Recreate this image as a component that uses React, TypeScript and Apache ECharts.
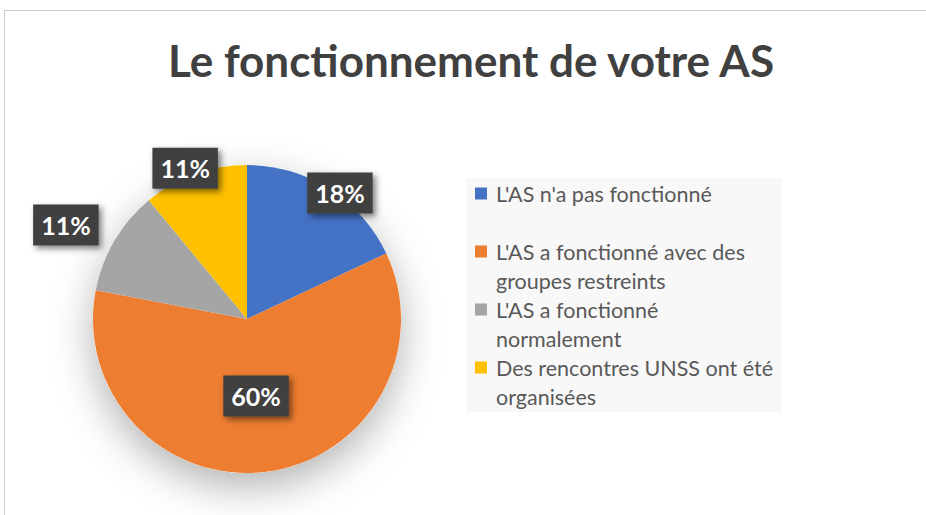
import React, { useEffect, useRef } from "react";
import * as echarts from "echarts";

const title = "Le fonctionnement de votre AS";
const categories = [
  "L'AS n'a pas fonctionné",
  "L'AS a fonctionné avec des groupes restreints",
  "L'AS a fonctionné normalement",
  "Des rencontres UNSS ont été organisées",
];
const legendLines = [
  ["L'AS n'a pas fonctionné", " "],
  ["L'AS a fonctionné avec des", "groupes restreints"],
  ["L'AS a fonctionné", "normalement"],
  ["Des rencontres UNSS ont été", "organisées"],
];
const values = [18, 60, 11, 11];
const colors = ["#4472C4", "#ED7D31", "#A5A5A5", "#FFC000"];
// label placement: [angle from 12 o'clock in degrees, distance from centre in px]
const labelPolar = [
  [36.4, 156.6],
  [173.3, 77.5],
  [297.4, 204],
  [337.7, 163],
];

const CX = 247;
const CY = 319;
const R = 154;
const FONT = "Lato, 'Noto Sans', sans-serif";

export default function App() {
  const ref = useRef<HTMLDivElement>(null);
  useEffect(() => {
    if (!ref.current) return;
    const chart = echarts.init(ref.current, null, { renderer: "svg" });
    const total = values.reduce((a, b) => a + b, 0);
    chart.setOption({
      animation: false,
      backgroundColor: "#ffffff",
      title: {
        text: title,
        left: 471,
        top: 35,
        padding: 0,
        textAlign: "center",
        textStyle: {
          fontFamily: FONT,
          fontWeight: "bold",
          fontSize: 44,
          color: "#404040",
          lineHeight: 50,
        },
      },
      graphic: [
        {
          type: "rect",
          z: -10,
          silent: true,
          shape: { x: 4.5, y: 10.5, width: 1000, height: 1000 },
          style: { fill: "none", stroke: "#cccccc", lineWidth: 1 },
        },
        {
          type: "rect",
          z: -5,
          silent: true,
          shape: { x: 466, y: 178, width: 316, height: 234 },
          style: { fill: "#f8f8f8" },
        },
      ],
      legend: {
        orient: "vertical",
        left: 475,
        top: 150,
        padding: 0,
        itemWidth: 12,
        itemHeight: 12,
        itemGap: -29,
        icon: "rect",
        data: categories,
        selectedMode: false,
        formatter: (name: string) => {
          const i = categories.indexOf(name);
          return [" "].concat(legendLines[i]).join("\n");
        },
        textStyle: {
          fontFamily: FONT,
          fontSize: 21.5,
          color: "#595959",
          lineHeight: 29,
          padding: [0, 0, 0, 4],
        },
      },
      series: [
        {
          type: "pie",
          silent: true,
          center: [CX, CY],
          radius: R,
          z: 1,
          label: { show: false },
          labelLine: { show: false },
          data: [
            {
              value: total,
              itemStyle: {
                color: "#ffffff",
                shadowBlur: 40,
                shadowColor: "rgba(0,0,0,0.3)",
                shadowOffsetY: 14,
              },
            },
          ],
        },
        {
          type: "pie",
          center: [CX, CY],
          radius: R,
          startAngle: 90,
          clockwise: true,
          z: 2,
          data: categories.map((name, i) => ({
            name,
            value: values[i],
            itemStyle: { color: colors[i] },
          })),
          labelLine: { show: false },
          label: {
            show: true,
            position: "inside",
            formatter: (p: any) => `${Math.round(p.percent)}%`,
            fontFamily: FONT,
            fontWeight: "bold",
            fontSize: 25,
            lineHeight: 25,
            color: "#ffffff",
            backgroundColor: "#404040",
            padding: [8, 8, 8, 8],
            shadowColor: "rgba(0,0,0,0.5)",
            shadowBlur: 6,
            shadowOffsetX: 3,
            shadowOffsetY: 3,
          },
          labelLayout: (params: any) => {
            const [ang, dist] = labelPolar[params.dataIndex];
            const a = (ang * Math.PI) / 180;
            return {
              x: CX + dist * Math.sin(a),
              y: CY - dist * Math.cos(a),
              align: "center",
              verticalAlign: "middle",
            };
          },
        },
      ],
    });
    return () => chart.dispose();
  }, []);
  return (
    <div
      ref={ref}
      style={{ position: "fixed", left: 0, top: 0, width: 926, height: 515 }}
    />
  );
}
